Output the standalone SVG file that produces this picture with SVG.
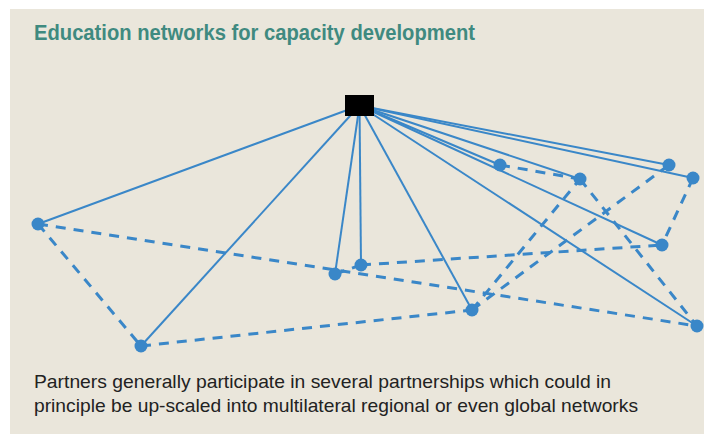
<svg xmlns="http://www.w3.org/2000/svg" width="704" height="434" viewBox="0 0 704 434">
<style>
.bg{fill:#eae6db}
.title{font-family:"Liberation Sans",Arial,sans-serif;font-weight:bold;font-size:22px;fill:#3f8a80}
.body{font-family:"Liberation Sans",Arial,sans-serif;font-size:19px;fill:#222}
.solid{stroke:#3a87c8;stroke-width:2;fill:none}
.dash{stroke:#3a87c8;stroke-width:3;fill:none;stroke-dasharray:10 8}
.node{fill:#3a87c8}
.hub{fill:#000}
</style>
<rect width="704" height="434" fill="#fff"/>
<rect class="bg" x="10" y="9" width="694" height="425"/>
<text class="title" x="34" y="40" textLength="441" lengthAdjust="spacingAndGlyphs">Education networks for capacity development</text>
<g id="connectors">
<line class="solid" x1="359.5" y1="105.5" x2="38" y2="224"/>
<line class="solid" x1="359.5" y1="105.5" x2="141" y2="346"/>
<line class="solid" x1="359.5" y1="105.5" x2="335" y2="274"/>
<line class="solid" x1="359.5" y1="105.5" x2="361" y2="265"/>
<line class="solid" x1="359.5" y1="105.5" x2="472" y2="310"/>
<line class="solid" x1="359.5" y1="105.5" x2="500" y2="165"/>
<line class="solid" x1="359.5" y1="105.5" x2="580" y2="179"/>
<line class="solid" x1="359.5" y1="105.5" x2="669" y2="165"/>
<line class="solid" x1="359.5" y1="105.5" x2="693" y2="178"/>
<line class="solid" x1="359.5" y1="105.5" x2="662" y2="245"/>
<line class="solid" x1="359.5" y1="105.5" x2="697" y2="326"/>
<line class="dash" x1="38" y1="224" x2="141" y2="346"/>
<line class="dash" x1="38" y1="224" x2="697" y2="326"/>
<line class="dash" x1="141" y1="346" x2="472" y2="310"/>
<line class="dash" x1="335" y1="274" x2="361" y2="265"/>
<line class="dash" x1="361" y1="265" x2="662" y2="245"/>
<line class="dash" x1="472" y1="310" x2="580" y2="179"/>
<line class="dash" x1="472" y1="310" x2="669" y2="165"/>
<line class="dash" x1="500" y1="165" x2="580" y2="179"/>
<line class="dash" x1="580" y1="179" x2="697" y2="326"/>
<line class="dash" x1="693" y1="178" x2="662" y2="245"/>
</g>
<g id="hub"><rect class="hub" x="345" y="95" width="29" height="21"/></g>
<g id="nA"><circle class="node" cx="38" cy="224" r="6.5"/></g>
<g id="nB"><circle class="node" cx="141" cy="346" r="6.5"/></g>
<g id="nC"><circle class="node" cx="335" cy="274" r="6.5"/></g>
<g id="nD"><circle class="node" cx="361" cy="265" r="6.5"/></g>
<g id="nE"><circle class="node" cx="472" cy="310" r="6.5"/></g>
<g id="nF"><circle class="node" cx="500" cy="165" r="6.5"/></g>
<g id="nG"><circle class="node" cx="580" cy="179" r="6.5"/></g>
<g id="nH"><circle class="node" cx="669" cy="165" r="6.5"/></g>
<g id="nI"><circle class="node" cx="693" cy="178" r="6.5"/></g>
<g id="nJ"><circle class="node" cx="662" cy="245" r="6.5"/></g>
<g id="nK"><circle class="node" cx="697" cy="326" r="6.5"/></g>
<text class="body" x="34" y="388" textLength="577" lengthAdjust="spacingAndGlyphs">Partners generally participate in several partnerships which could in</text>
<text class="body" x="34" y="412" textLength="604" lengthAdjust="spacingAndGlyphs">principle be up-scaled into multilateral regional or even global networks</text>
</svg>
